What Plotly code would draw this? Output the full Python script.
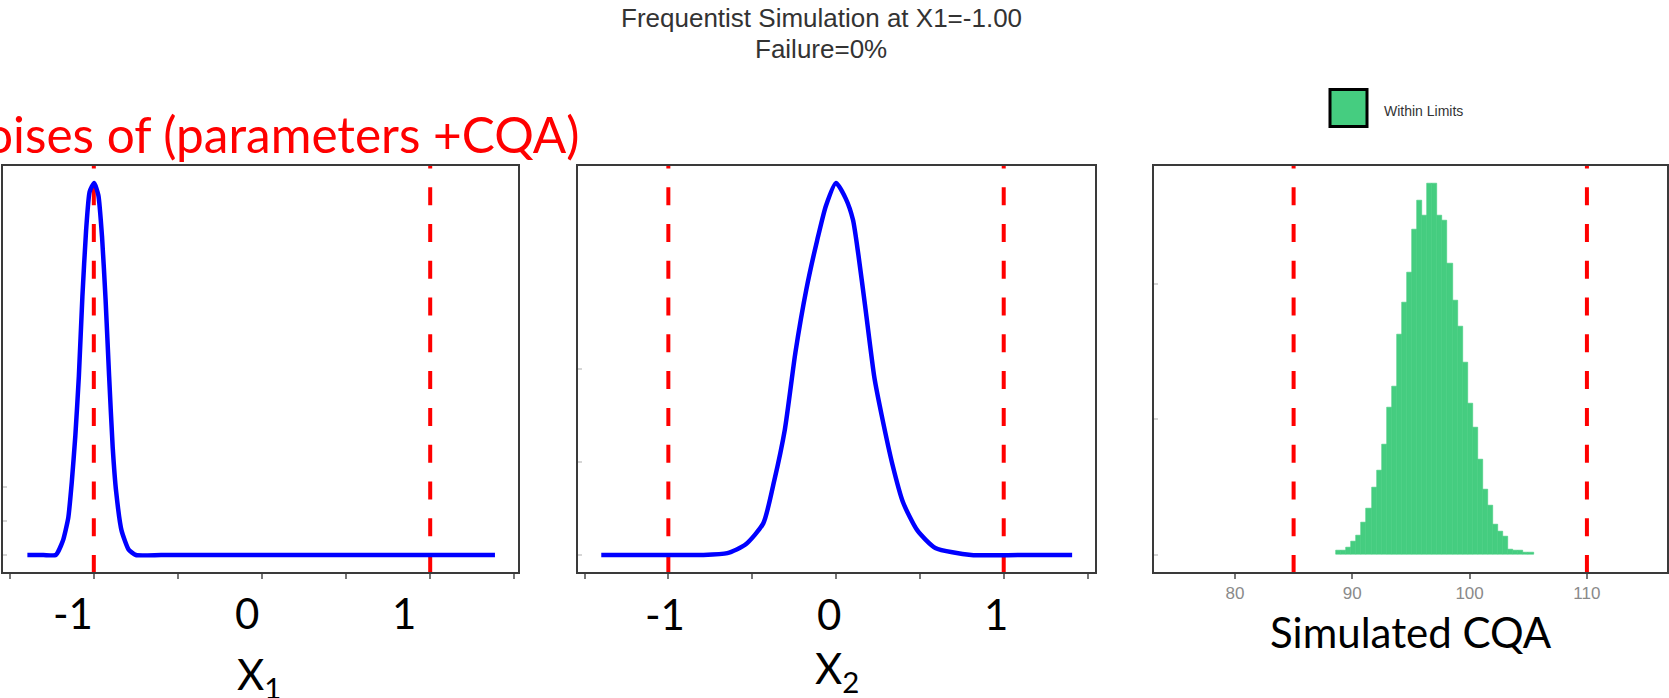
import plotly.graph_objects as go

W, H = 1669, 698

# ---------------- data ----------------
X1_GRID = [-1.395, -1.30, -1.226, -1.184, -1.152, -1.131, -1.110, -1.089, -1.068, -1.046, -1.025,
           -0.998, -0.973, -0.951, -0.930, -0.909, -0.888, -0.867, -0.835, -0.793, -0.750,
           -0.60, -0.30, 0.0, 0.30, 0.60, 0.90, 1.20, 1.385]
X1_DENS = [0.0, 0.0, 0.0, 0.21, 0.55, 1.08, 1.76, 2.64, 3.82, 4.80, 5.37,
           5.50, 5.32, 4.70, 3.77, 2.64, 1.60, 0.93, 0.36, 0.08, 0.0,
           0.0, 0.0, 0.0, 0.0, 0.0, 0.0, 0.0, 0.0]

X2_GRID = [-1.400, -1.10, -0.80, -0.648, -0.540, -0.434, -0.370, -0.305, -0.242, -0.177, -0.113,
           -0.060, 0.000, 0.058, 0.101, 0.133, 0.175, 0.229, 0.272, 0.336, 0.400, 0.485, 0.592,
           0.806, 1.10, 1.408]
X2_DENS = [0.0, 0.0, 0.0, 0.01, 0.056, 0.17, 0.394, 0.676, 1.09, 1.428, 1.69,
           1.878, 2.0, 1.916, 1.802, 1.616, 1.328, 0.952, 0.752, 0.488, 0.282, 0.132, 0.038,
           0.0, 0.0, 0.0]

PARAM_LIMITS = [-1, 1]
CQA_LIMITS = [85, 110]

HIST_START = 88.62
HIST_BIN = 0.4315
CQA_DENS = [0.0013, 0.0013, 0.0025, 0.0048, 0.0071, 0.0119, 0.0168, 0.0246, 0.0311, 0.0405,
            0.0542, 0.0619, 0.0813, 0.0929, 0.1041, 0.1200, 0.1306, 0.1250, 0.1370, 0.1370,
            0.1250, 0.1232, 0.1073, 0.0938, 0.0841, 0.0710, 0.0557, 0.0467, 0.0351, 0.0241,
            0.0181, 0.0110, 0.0086, 0.0065, 0.0018, 0.0013, 0.0013, 0.0006, 0.0006]

PARAM_TICKS = [-1.5, -1, -0.5, 0, 0.5, 1, 1.5]
CQA_TICKS = [80, 90, 100, 110]
OVERLAY_TICK_TEXT = ["-1", "0", "1"]

TITLE_LINES = ["Frequentist Simulation at X1=-1.00", "Failure=0%"]
LEGEND_TEXT = "Within Limits"
RED_HEADER = "Noises of (parameters +CQA)"

BLUE = "#0000FF"
RED = "#FF0000"
GREEN = "#45CD80"
FRAME = "#3a3a3a"

# ---------------- layout geometry (pixels) ----------------
PANEL_X = [(3, 518), (578.3, 1094.6), (1154, 1666.7)]
BOX_TOP, BOX_BOT = 165.5, 572.0
XRANGES = [(-1.540, 1.522), (-1.537, 1.542), (73.1, 116.8)]


def px(v):
    return v / W


def py(v):
    return 1 - v / H


def yrange_for(peak, base_px, peak_px):
    ppu = (base_px - peak_px) / peak
    return (-(BOX_BOT - base_px) / ppu, peak + (peak_px - BOX_TOP) / ppu, ppu)


fig = go.Figure()

peaks = [max(X1_DENS), max(X2_DENS), max(CQA_DENS)]
bases = [(555, 183), (555, 183), (554.5, 183.3)]
yr = [yrange_for(p, b[0], b[1]) for p, b in zip(peaks, bases)]

dash = "18px,18.77px"

# red limit lines (panels 1, 2, 3)
limit_sets = [PARAM_LIMITS, PARAM_LIMITS, CQA_LIMITS]
for i, lims in enumerate(limit_sets):
    y0, y1, ppu = yr[i]
    ytop = y1 + (BOX_TOP - 150.5) / ppu
    ybot = y0 - (580 - BOX_BOT) / ppu
    ax = "" if i == 0 else str(i + 1)
    for L in lims:
        fig.add_trace(go.Scatter(x=[L, L], y=[ytop, ybot], mode="lines",
                                 line=dict(color=RED, width=4, dash=dash),
                                 xaxis="x" + ax, yaxis="y" + ax, hoverinfo="skip"))

fig.add_trace(go.Scatter(x=X1_GRID, y=X1_DENS, mode="lines",
                         line=dict(color=BLUE, width=4.5, shape="spline", smoothing=0.5),
                         xaxis="x", yaxis="y"))
fig.add_trace(go.Scatter(x=X2_GRID, y=X2_DENS, mode="lines",
                         line=dict(color=BLUE, width=4.5, shape="spline", smoothing=0.6),
                         xaxis="x2", yaxis="y2"))

centers = [HIST_START + HIST_BIN * (k + 0.5) for k in range(len(CQA_DENS))]
fig.add_trace(go.Bar(x=centers, y=CQA_DENS, width=HIST_BIN,
                     marker=dict(color=GREEN, line=dict(color=GREEN, width=0.6)),
                     xaxis="x3", yaxis="y3"))

common_x = dict(showgrid=False, zeroline=False, showline=True, mirror=True,
                linecolor=FRAME, linewidth=2, ticks="outside", ticklen=5,
                tickwidth=1.5, tickcolor="#777777")
common_y = dict(showgrid=False, zeroline=False, showline=True, mirror=True,
                linecolor=FRAME, linewidth=2, ticks="inside", ticklen=4,
                tickwidth=1.5, tickcolor="#d6d6d6", showticklabels=False)

layout = dict(width=W, height=H, margin=dict(l=0, r=0, t=0, b=0),
              paper_bgcolor="white", plot_bgcolor="white", showlegend=False,
              bargap=0)
for i in range(3):
    ax = "" if i == 0 else str(i + 1)
    xd = [px(PANEL_X[i][0]), px(PANEL_X[i][1])]
    yd = [py(BOX_BOT), py(BOX_TOP)]
    xa = dict(common_x, domain=xd, range=list(XRANGES[i]), anchor="y" + ax)
    if i < 2:
        xa.update(tickvals=PARAM_TICKS, showticklabels=False)
    else:
        xa.update(tickvals=CQA_TICKS, showticklabels=True,
                  tickfont=dict(family="Liberation Sans", size=17, color="#8a8a8a"))
    ya = dict(common_y, domain=yd, range=[yr[i][0], yr[i][1]], anchor="x" + ax)
    ya.update(tickvals=[0, 0.5, 1] if i < 2 else [0, 0.05, 0.1])
    layout["xaxis" + ax] = xa
    layout["yaxis" + ax] = ya

fig.update_layout(**layout)

ann = []
# R title
ann.append(dict(text=TITLE_LINES[0], x=px(821), y=py(18), xref="paper", yref="paper",
                showarrow=False, xanchor="center", yanchor="middle",
                font=dict(family="Liberation Sans", size=26, color="#333333")))
ann.append(dict(text=TITLE_LINES[1], x=px(821), y=py(49), xref="paper", yref="paper",
                showarrow=False, xanchor="center", yanchor="middle",
                font=dict(family="Liberation Sans", size=26, color="#333333")))
# legend text
ann.append(dict(text=LEGEND_TEXT, x=px(1382), y=py(111), xref="paper", yref="paper",
                showarrow=False, xanchor="left", yanchor="middle",
                font=dict(family="Liberation Sans", size=14, color="#333333")))
# red header (cut at the left edge)
ann.append(dict(text=RED_HEADER, x=px(582), y=py(134), xref="paper", yref="paper",
                showarrow=False, xanchor="right", yanchor="middle",
                font=dict(family="Lato", size=49.5, color=RED)))
# overlay big tick labels
big = dict(family="Lato", size=42, color="black")
for xc, t in zip([73, 247, 403.6], OVERLAY_TICK_TEXT):
    ann.append(dict(text=t, x=px(xc), y=py(613), xref="paper", yref="paper",
                    showarrow=False, xanchor="center", yanchor="middle", font=big))
for xc, t in zip([665, 829, 996.4], OVERLAY_TICK_TEXT):
    ann.append(dict(text=t, x=px(xc), y=py(614), xref="paper", yref="paper",
                    showarrow=False, xanchor="center", yanchor="middle", font=big))
ann.append(dict(text="X<sub>1</sub>", x=px(235), y=py(677), xref="paper", yref="paper",
                showarrow=False, xanchor="left", yanchor="middle", font=big))
ann.append(dict(text="X<sub>2</sub>", x=px(813), y=py(671), xref="paper", yref="paper",
                showarrow=False, xanchor="left", yanchor="middle", font=big))
ann.append(dict(text="Simulated CQA", x=px(1411), y=py(632), xref="paper", yref="paper",
                showarrow=False, xanchor="center", yanchor="middle", font=big))
fig.update_layout(annotations=ann)

# legend swatch
fig.add_shape(type="rect", xref="paper", yref="paper",
              x0=px(1330), x1=px(1367), y0=py(126.5), y1=py(89.5),
              line=dict(color="black", width=3), fillcolor=GREEN)

fig.write_html("out.html")
